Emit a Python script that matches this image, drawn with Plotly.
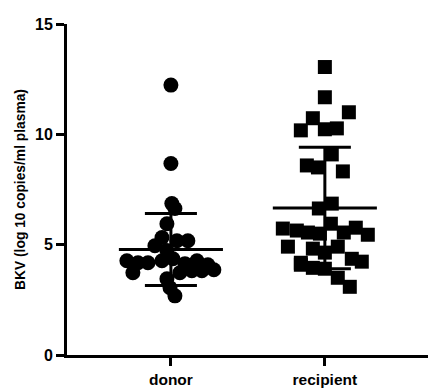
import plotly.graph_objects as go

categories = ["donor", "recipient"]

donor_values = [12.23, 8.68, 6.86, 6.64, 5.95, 5.32, 5.18, 5.18, 4.95, 4.73,
                4.27, 4.18, 4.18, 4.27, 4.36, 4.14, 4.27, 4.09, 3.86, 3.73,
                3.73, 3.82, 3.82, 3.45, 3.05, 2.68]
donor_jitter = [0, 0, 0.006, 0.026, -0.026, -0.058, 0.039, 0.110, -0.104, -0.026,
                -0.286, -0.214, -0.149, -0.058, 0.013, 0.091, 0.169, 0.240, 0.279, -0.247,
                0.058, 0.136, 0.201, -0.026, -0.006, 0.026]

recipient_values = [13.05, 11.68, 11.0, 10.73, 10.18, 10.23, 10.27, 9.09, 8.59, 8.5,
                    8.32, 6.86, 6.64, 5.95, 5.73, 5.64, 5.55, 5.5, 5.55, 5.77,
                    5.45, 4.91, 4.82, 4.64, 4.91, 4.18, 4.09, 3.95, 3.91, 4.36,
                    4.23, 3.5, 3.09]
recipient_jitter = [0, 0, 0.156, -0.078, -0.156, 0, 0.078, 0.045, -0.117, -0.045,
                    0.117, 0.045, -0.039, 0.039, -0.273, -0.182, -0.110, -0.032, 0.123, 0.201,
                    0.279, -0.240, -0.078, 0, 0.084, -0.156, -0.156, -0.078, 0, 0.175,
                    0.240, 0.084, 0.162]

means = [4.78, 6.66]
sds = [1.63, 2.75]

y_ticks = [0, 5, 10, 15]

FONT = "Arial, Liberation Sans, sans-serif"

fig = go.Figure()

fig.add_trace(go.Scatter(
    x=[0 + j for j in donor_jitter], y=donor_values, mode="markers",
    marker=dict(symbol="circle", size=15, color="black", line=dict(width=0)),
    showlegend=False, hoverinfo="y"))
fig.add_trace(go.Scatter(
    x=[1 + j for j in recipient_jitter], y=recipient_values, mode="markers",
    marker=dict(symbol="square", size=14, color="black", line=dict(width=0)),
    showlegend=False, hoverinfo="y"))

mean_half = 0.338
cap_half = 0.169
for i, (m, s) in enumerate(zip(means, sds)):
    xs = [i - mean_half, i + mean_half, None,
          i, i, None,
          i - cap_half, i + cap_half, None,
          i - cap_half, i + cap_half]
    ys = [m, m, None,
          m - s, m + s, None,
          m + s, m + s, None,
          m - s, m - s]
    fig.add_trace(go.Scatter(x=xs, y=ys, mode="lines",
                             line=dict(color="black", width=3),
                             showlegend=False, hoverinfo="skip"))

fig.update_layout(
    width=428, height=388,
    margin=dict(l=67, r=0, t=24, b=33),
    plot_bgcolor="white", paper_bgcolor="white",
    font=dict(family=FONT, color="black"),
)
fig.update_xaxes(
    range=[-0.675, 1.67],
    tickvals=[0, 1], ticktext=categories,
    showline=True, linecolor="black", linewidth=3,
    ticks="outside", ticklen=8, tickwidth=3, tickcolor="black",
    tickfont=dict(size=15.5, family=FONT, weight="bold"),
    showgrid=False, zeroline=False,
)
fig.update_yaxes(
    range=[0, 15],
    tickvals=y_ticks,
    showline=True, linecolor="black", linewidth=3,
    ticks="outside", ticklen=8, tickwidth=3, tickcolor="black",
    tickfont=dict(size=16, family=FONT, weight="bold"),
    showgrid=False, zeroline=False,
    title=dict(text="BKV (log 10 copies/ml plasma)",
               font=dict(size=13.8, family=FONT, weight="bold"), standoff=7),
)

fig.write_html("out.html",
               config={"displayModeBar": False},
               post_script="document.body.style.margin='0';document.body.style.overflow='hidden';")
